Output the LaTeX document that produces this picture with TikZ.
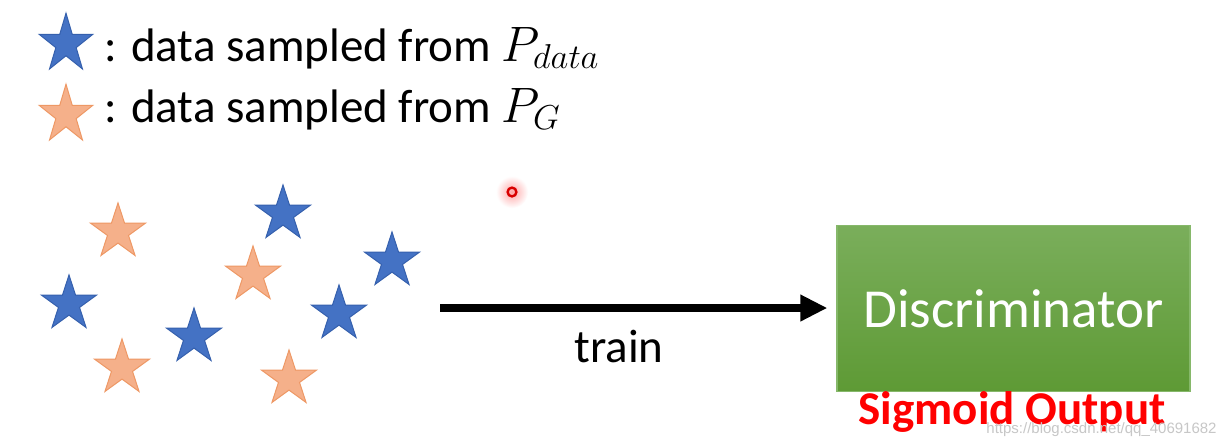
\documentclass[tikz,border=0pt]{standalone}
\usepackage{fontspec}
\setmainfont{Carlito}
\newfontfamily\wmfont{Liberation Sans}
\usetikzlibrary{shapes.geometric,arrows.meta}
\definecolor{starblue}{HTML}{4472C4}
\definecolor{starblueedge}{HTML}{3560AD}
\definecolor{starorange}{HTML}{F5B08A}
\definecolor{starorangeedge}{HTML}{EE9865}
\definecolor{boxtop}{HTML}{7AAE5B}
\definecolor{boxbot}{HTML}{5E9A35}
\definecolor{boxedge}{HTML}{86B86A}
\begin{document}
\begin{tikzpicture}[x=0.5pt,y=-0.5pt,
  starshape/.style={shape=star, star points=5, star point ratio=2.618, inner sep=0pt, minimum size=29pt, line width=0.5pt},
  bstar/.style={starshape, fill=starblue, draw=starblueedge},
  ostar/.style={starshape, fill=starorange, draw=starorangeedge},
  legend/.style={anchor=base west, inner sep=0pt, font=\fontsize{23.5}{28}\selectfont},
  plain/.style={inner sep=0pt, font=\fontsize{23.5}{28}\selectfont},
  discbox/.style={draw=boxedge, line width=0.6pt, top color=boxtop, bottom color=boxbot, minimum width=176.5pt, minimum height=83pt, inner sep=0pt, text=white, font=\fontsize{27.5}{32}\selectfont}
]
\useasboundingbox (0,0) rectangle (1226,447);
\fill[white] (0,0) rectangle (1226,447);

% legend
\node[bstar, minimum size=28pt, yscale=1.1] (lb) at (66,44) {};
\node[ostar, minimum size=28pt, yscale=1.1] (lo) at (66,115) {};
\node[legend] (lt1) at (104,61) {: data sampled from $P_{data}$};
\node[legend] (lt2) at (104,122) {: data sampled from $P_{G}$};

% laser pointer
\shade[inner color=red!35, outer color=white] (512,192) circle [radius=8pt];
\draw[red!85!black, line width=1.2pt] (512,192) circle [radius=2.2pt];

% data stars
\node[ostar] (o1) at (118,232) {};
\node[bstar] (b1) at (69,304) {};
\node[ostar] (o2) at (122,368) {};
\node[bstar] (b2) at (194,337) {};
\node[bstar] (b3) at (283,214) {};
\node[ostar] (o3) at (253,275) {};
\node[bstar] (b4) at (392,261) {};
\node[bstar] (b5) at (339,314) {};
\node[ostar] (o4) at (289,379) {};

% discriminator
\node[discbox] (disc) at (1013.5,308.5) {Discriminator};
\coordinate (start) at (440,308);
\draw[line width=4pt, -{Triangle[length=13.5pt,width=12.5pt]}, shorten >=4.5pt] (start) -- (start -| disc.west);
\node[plain, anchor=base] (train) at (619,362) {train};

\node[anchor=base, inner sep=0pt, text=red, font=\fontsize{23.5}{28}\selectfont\bfseries] (sig) at (1012,424) {Sigmoid Output};
\node[anchor=base east, inner sep=0pt, text=black!22, font=\wmfont\fontsize{7.5}{9}\selectfont] (wm) at (1217,433) {https://blog.csdn.net/qq\_40691682};
\end{tikzpicture}
\end{document}
